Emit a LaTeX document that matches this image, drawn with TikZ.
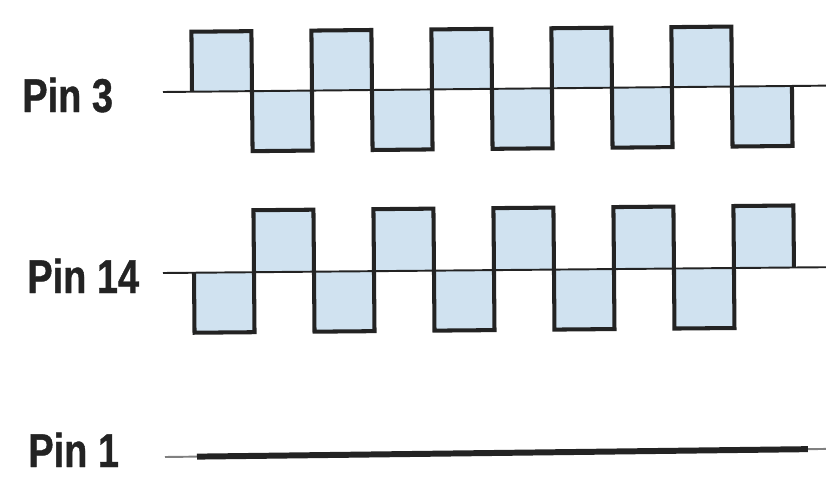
\documentclass[tikz,border=0pt]{standalone}
\usepackage{fontspec}
\newfontfamily\pinfont[FakeStretch=0.8,FakeBold=0.8]{Liberation Sans}
\definecolor{pulse}{RGB}{208,226,240}
\definecolor{ink}{RGB}{35,35,35}
\tikzset{
  pinlabel/.style={anchor=base west,inner sep=0pt,text=ink,font=\pinfont\bfseries\fontsize{27}{30}\selectfont},
  axis/.style={draw=ink,line width=1.1pt},
  wave/.style={draw=ink,line width=2.3pt,line join=miter},
}
\begin{document}
\begin{tikzpicture}[x=0.02cm,y=-0.02cm]
    \useasboundingbox (0,0) rectangle (826,477);
    % --- Pin 3 : square wave, starts high
    \begin{scope}[rotate around={0.55:(163,92)}]
      \foreach \i in {0,...,4} {
        \fill[pulse] (192+120*\i,92) rectangle ++(60,-60);
        \fill[pulse] (252+120*\i,92) rectangle ++(60,60);
      }
      \draw[axis] (163,92) -- (826,92);
      \draw[wave] (192,92) \foreach \i in {0,...,4} {
          -- ++(0,-60) -- ++(60,0) -- ++(0,120) -- ++(60,0) -- ++(0,-60)};
    \end{scope}
    \node[pinlabel] (pin3) at (22,112) {Pin 3};
    % --- Pin 14 : inverted square wave
    \begin{scope}[rotate around={0.5:(163,273)}]
      \foreach \i in {0,...,4} {
        \fill[pulse] (194+120*\i,273) rectangle ++(60,60);
        \fill[pulse] (254+120*\i,273) rectangle ++(60,-62);
      }
      \draw[axis] (163,273) -- (826,273);
      \draw[wave] (194,273) \foreach \i in {0,...,4} {
          -- ++(0,60) -- ++(60,0) -- ++(0,-122) -- ++(60,0) -- ++(0,62)};
    \end{scope}
    \node[pinlabel] (pin14) at (27,293) {Pin 14};
    % --- Pin 1 : steady level
    \begin{scope}[rotate around={0.7:(165,457)}]
      \draw[axis,draw=gray] (165,457) -- (826,457);
      \draw[ink,line width=3.4pt] (197,457) -- (808,457);
    \end{scope}
    \node[pinlabel] (pin1) at (28,467) {Pin 1};
\end{tikzpicture}
\end{document}
